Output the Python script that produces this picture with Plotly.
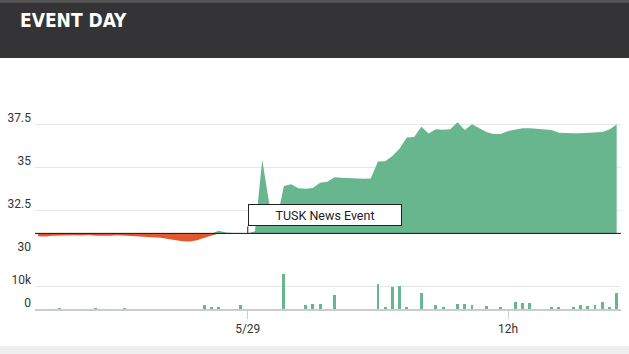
import pandas as pd
import plotly.graph_objects as go

# ---- data ----
times = pd.date_range("2018-05-28 14:20", periods=81, freq="20min")

price = [30.97, 30.96, 31.00, 31.02, 31.05, 31.03, 31.02, 31.04, 31.01, 30.99,
         31.00, 31.03, 31.01, 30.99, 30.97, 30.94, 30.92, 30.88, 30.82, 30.75,
         30.69, 30.67, 30.74, 30.88, 31.02, 31.29, 31.19, 31.16, 31.15, 31.14,
         31.26, 35.42, 32.80, 31.90, 33.90, 33.99, 33.76, 33.73, 33.78, 34.09,
         34.14, 34.40, 34.38, 34.35, 34.33, 34.31, 34.33, 35.32, 35.34, 35.64,
         36.08, 36.72, 36.75, 37.34, 36.95, 37.19, 37.17, 37.20, 37.60, 37.15,
         37.49, 37.25, 37.03, 36.92, 36.92, 37.09, 37.18, 37.26, 37.26, 37.21,
         37.19, 37.15, 36.99, 36.96, 36.96, 36.96, 36.99, 37.00, 37.03, 37.18,
         37.47]

baseline = 31.14

vol_k = {3: 0.3, 8: 0.3, 12: 0.3, 23: 1.9, 24: 1.0, 25: 1.0, 28: 1.9, 34: 15.2,
         37: 1.6, 38: 2.0, 39: 2.0, 41: 6.1, 47: 10.7, 48: 0.8, 49: 9.4, 50: 9.9,
         51: 0.8, 53: 6.9, 55: 1.6, 56: 0.9, 58: 2.2, 59: 2.0, 60: 1.7, 62: 1.1,
         64: 1.0, 66: 3.0, 67: 2.4, 68: 2.5, 71: 0.9, 72: 0.9, 74: 0.9, 75: 1.9,
         76: 1.3, 77: 1.7, 78: 3.2, 79: 1.0, 80: 6.9}
volume = [vol_k.get(i, 0) * 1000 for i in range(len(times))]

price_ticks = [30, 32.5, 35, 37.5, 40]
price_ticktext = ["30", "32.5", "35", "37.5", ""]
vol_ticks = [0, 10000, 20000]
vol_ticktext = ["0", "10k", ""]
x_ticks = [pd.Timestamp("2018-05-29 00:00"), pd.Timestamp("2018-05-29 12:00")]
x_ticktext = ["5/29", "12h"]
event_time = pd.Timestamp("2018-05-29 00:00")
event_text = "TUSK News Event"
title = "EVENT DAY"

GREEN = "#67b68d"
RED = "#e4562c"
GRID = "#e6e6e6"
TXT = "#333333"

up = [max(p, baseline) for p in price]
down = [min(p, baseline) for p in price]
base = [baseline] * len(price)

fig = go.Figure()
fig.add_trace(go.Scatter(x=times, y=base, mode="lines", line=dict(width=0),
                         hoverinfo="skip", showlegend=False))
fig.add_trace(go.Scatter(x=times, y=up, mode="lines", line=dict(width=0),
                         fill="tonexty", fillcolor=GREEN, showlegend=False))
fig.add_trace(go.Scatter(x=times, y=base, mode="lines", line=dict(width=0),
                         hoverinfo="skip", showlegend=False))
fig.add_trace(go.Scatter(x=times, y=down, mode="lines", line=dict(width=0),
                         fill="tonexty", fillcolor=RED, showlegend=False))
fig.add_trace(go.Bar(x=times, y=volume, marker=dict(color=GREEN, line=dict(width=0)),
                     width=8 * 60 * 1000, yaxis="y2", showlegend=False))

# baseline line
fig.add_shape(type="line", xref="paper", yref="y", x0=0, x1=1,
              y0=baseline, y1=baseline, line=dict(color="#111", width=1))

# header band
fig.add_shape(type="rect", xref="paper", yref="paper", x0=-0.1, x1=1.1,
              y0=1.1009, y1=1.4, fillcolor="#343436", line=dict(width=0), layer="above")
fig.add_shape(type="rect", xref="paper", yref="paper", x0=-0.1, x1=1.1,
              y0=(309 - 2.7) / 228, y1=1.4, fillcolor="#555555", line=dict(width=0), layer="above")
# bottom grey band
fig.add_shape(type="rect", xref="paper", yref="paper", x0=-0.1, x1=1.1,
              y0=-0.3, y1=(309 - 346) / 228, fillcolor="#efefef", line=dict(width=0), layer="below")

fig.add_annotation(xref="paper", yref="paper", x=(15 - 32) / 589, y=(309 - 20) / 228,
                   xanchor="left", yanchor="middle", showarrow=False,
                   text="<b>" + title + "</b>",
                   font=dict(family="DejaVu Sans Condensed", size=19, color="white"))

fig.add_annotation(x=event_time, y=baseline, xref="x", yref="y",
                   text=event_text, showarrow=True, arrowhead=0, arrowwidth=1,
                   arrowcolor="#222", ax=0, ay=-7, xanchor="left", yanchor="bottom",
                   width=152, height=20, borderpad=0, borderwidth=1,
                   bordercolor="#222", bgcolor="white",
                   font=dict(family="Roboto", size=12.5, color="#222"))

fig.update_layout(
    width=629, height=354,
    margin=dict(l=32, r=8, t=81, b=45),
    paper_bgcolor="white", plot_bgcolor="white",
    bargap=0,
    font=dict(family="Roboto", size=12, color=TXT),
    xaxis=dict(type="date", anchor="y2",
               range=["2018-05-28 14:11:45", "2018-05-29 17:12"],
               tickvals=x_ticks, ticktext=x_ticktext,
               ticks="outside", ticklen=8, tickcolor="#cccccc", tickwidth=1,
               showgrid=False, showline=True, linecolor="#cccccc", linewidth=2,
               tickfont=dict(family="Roboto", size=12, color=TXT)),
    yaxis=dict(domain=[(309 - 253) / 228, 1], range=[30, 40],
               tickvals=price_ticks, ticktext=price_ticktext,
               showgrid=True, gridcolor=GRID, gridwidth=1, zeroline=False,
               ticks="", ticklabelshift=-6, ticklabelstandoff=3,
               tickfont=dict(family="Roboto", size=12, color=TXT)),
    yaxis2=dict(domain=[0, (309 - 263) / 228], range=[0, 20000],
                tickvals=vol_ticks, ticktext=vol_ticktext,
                showgrid=True, gridcolor=GRID, gridwidth=1,
                zeroline=True, zerolinecolor="#111", zerolinewidth=1,
                ticks="", ticklabelshift=-6, ticklabelstandoff=3,
                tickfont=dict(family="Roboto", size=12, color=TXT)),
)

fig.write_html("out.html")
